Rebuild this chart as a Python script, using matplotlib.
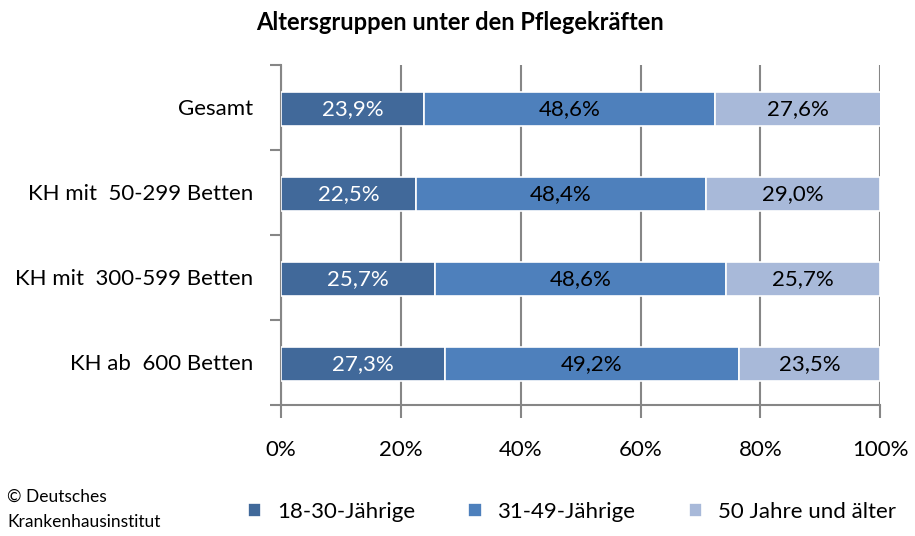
import matplotlib
matplotlib.use("Agg")
import matplotlib.pyplot as plt
import numpy as np

# data
categories = ["Gesamt", "KH mit  50-299 Betten", "KH mit  300-599 Betten", "KH ab  600 Betten"]
series_names = ["18-30-Jährige", "31-49-Jährige", "50 Jahre und älter"]
young = [23.9, 22.5, 25.7, 27.3]
middle = [48.6, 48.4, 48.6, 49.2]
old = [27.6, 29.0, 25.7, 23.5]
xticks = [0, 20, 40, 60, 80, 100]

plt.rcParams['font.family'] = ['Lato', 'DejaVu Sans']

colors = ['#41699A', '#4E80BC', '#A8B9D9']
text_colors = ['white', 'black', 'black']

fig = plt.figure(figsize=(9.15, 5.36), dpi=100)
ax = fig.add_axes([0.307, 0.2444, 0.655, 0.635])

# stacked bars with value labels
y = np.arange(len(categories))
left = np.zeros(len(categories))
for vals, name, c, tc in zip([young, middle, old], series_names, colors, text_colors):
    bars = ax.barh(y + 0.02, vals, left=left, height=0.4, color=c, edgecolor='white',
                   linewidth=1.2, label=name, zorder=3)
    for b, v in zip(bars, vals):
        ax.text(b.get_x() + b.get_width() / 2, b.get_y() + b.get_height() / 2,
                f"{v:.1f}%".replace('.', ','), ha='center', va='center',
                fontsize=16, color=tc, zorder=4)
    left += np.array(vals)

# axes styling
ax.set_xlim(0, 100)
ax.set_ylim(len(categories) - 0.5, -0.5)
ax.set_xticks(xticks)
ax.set_xticklabels([f"{t}%" for t in xticks], fontsize=16)
ax.set_yticks(y)
ax.set_yticklabels(categories, fontsize=16)
ax.tick_params(axis='y', length=0, pad=20)
ax.tick_params(axis='x', length=9, width=1.5, color='#868686', pad=16)
ax.set_yticks(np.arange(len(categories) + 1) - 0.5, minor=True)
ax.tick_params(axis='y', which='minor', length=8, width=1.5, color='#868686')

ax.grid(axis='x', color='#868686', linewidth=1.5, zorder=0)
for s in ['top', 'right']:
    ax.spines[s].set_visible(False)
for s in ['left', 'bottom']:
    ax.spines[s].set_color('#868686')
    ax.spines[s].set_linewidth(1.5)

fig.text(0.503, 0.958, "Altersgruppen unter den Pflegekräften", ha='center', va='center',
         fontsize=17, fontweight='bold')

fig.text(0.008, 0.05, "© Deutsches\nKrankenhausinstitut", ha='left', va='center',
         fontsize=12.5, linespacing=1.75)

fig.legend(loc='center', bbox_to_anchor=(0.625, 0.045), ncol=3, frameon=False,
           fontsize=16, handlelength=0.6, handleheight=0.6, columnspacing=2.4,
           handletextpad=0.7)

fig.savefig("out.png", dpi=100)
